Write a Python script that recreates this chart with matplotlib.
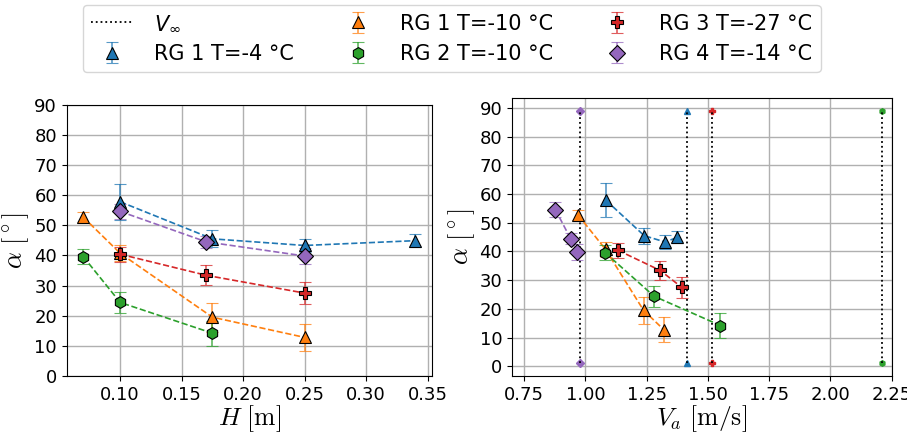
import matplotlib
matplotlib.use("Agg")
import matplotlib.pyplot as plt

# RG 1, T=-4 C
H_rg1a = [0.10, 0.175, 0.25, 0.34]
Va_rg1a = [1.084, 1.240, 1.325, 1.374]
al_rg1a = [57.8, 45.5, 43.3, 44.9]
er_rg1a = [5.9, 2.8, 2.3, 2.1]
Vinf_rg1a = 1.416

# RG 1, T=-10 C
H_rg1b = [0.07, 0.10, 0.175, 0.25]
Va_rg1b = [0.970, 1.082, 1.237, 1.319]
al_rg1b = [52.7, 40.7, 19.5, 12.8]
er_rg1b = [1.8, 2.6, 4.8, 4.4]

# RG 2, T=-10 C
H_rg2 = [0.07, 0.10, 0.175]
Va_rg2 = [1.080, 1.280, 1.551]
al_rg2 = [39.6, 24.4, 14.2]
er_rg2 = [2.6, 3.6, 4.2]
Vinf_rg2 = 2.212

# RG 3, T=-27 C
H_rg3 = [0.10, 0.17, 0.25]
Va_rg3 = [1.133, 1.305, 1.393]
al_rg3 = [40.4, 33.4, 27.5]
er_rg3 = [2.5, 3.3, 3.6]
Vinf_rg3 = 1.516

# RG 4, T=-14 C
H_rg4 = [0.10, 0.17, 0.25]
Va_rg4 = [0.877, 0.939, 0.966]
al_rg4 = [54.6, 44.5, 39.8]
er_rg4 = [2.5, 2.0, 2.7]
Vinf_rg4 = 0.977

vinf_span = [1, 89]

series = [
    ("RG 1 T=-4 °C", H_rg1a, Va_rg1a, al_rg1a, er_rg1a, Vinf_rg1a, "C0", "^"),
    ("RG 1 T=-10 °C", H_rg1b, Va_rg1b, al_rg1b, er_rg1b, None, "C1", "^"),
    ("RG 2 T=-10 °C", H_rg2, Va_rg2, al_rg2, er_rg2, Vinf_rg2, "C2", "h"),
    ("RG 3 T=-27 °C", H_rg3, Va_rg3, al_rg3, er_rg3, Vinf_rg3, "C3", "P"),
    ("RG 4 T=-14 °C", H_rg4, Va_rg4, al_rg4, er_rg4, Vinf_rg4, "C4", "D"),
]

fig = plt.figure(figsize=(9.07, 4.37), dpi=100)
ax1 = fig.add_axes([0.0735, 0.1396, 0.4028, 0.6208])
ax2 = fig.add_axes([0.5645, 0.1396, 0.4186, 0.6355])

handles = []
vline = None
for name, H, Va, al, er, vinf, c, m in series:
    for ax, x in ((ax1, H), (ax2, Va)):
        ax.plot(x, al, "--", color=c, lw=1.2, zorder=2)
        eb = ax.errorbar(x, al, yerr=er, fmt=m, ls="none", color=c, ms=8.5,
                         mec="k", mew=0.8, capsize=4.5, elinewidth=1.2,
                         capthick=1.2, zorder=3, label=name)
        for part in eb[1] + eb[2]:
            part.set_alpha(0.75)
    handles.append(eb)
    if vinf is not None:
        ax2.plot([vinf, vinf], vinf_span, m, color=c, ms=4, ls="none", zorder=2)
        vline, = ax2.plot([vinf, vinf], vinf_span, ":", color="k", lw=1.3,
                          zorder=2, label=r"$V_\infty$")

ax1.set_ylim(0, 90)
ax1.set_yticks(range(0, 91, 10))
ax2.set_xlim(0.7, 2.25)
ax2.set_yticks(range(0, 91, 10))

ax1.set_xlabel(r"$H\ [\mathrm{m}]$", fontsize=18.5, math_fontfamily="cm", labelpad=0)
ax2.set_xlabel(r"$V_a\ [\mathrm{m/s}]$", fontsize=18.5, math_fontfamily="cm", labelpad=0)
for ax in (ax1, ax2):
    ax.set_ylabel(r"$\alpha\ [^\circ]$", fontsize=19, math_fontfamily="cm", labelpad=2)
    ax.grid(True, color="#b0b0b0", lw=1)
    ax.set_axisbelow(True)
    ax.tick_params(labelsize=13)

fig.legend([vline] + handles, [r"$V_\infty$"] + [s[0] for s in series],
           loc="upper center", bbox_to_anchor=(0.498, 1.012), ncol=3,
           fontsize=15, columnspacing=2.1, handletextpad=1.0)

fig.savefig("out.png", dpi=100)
